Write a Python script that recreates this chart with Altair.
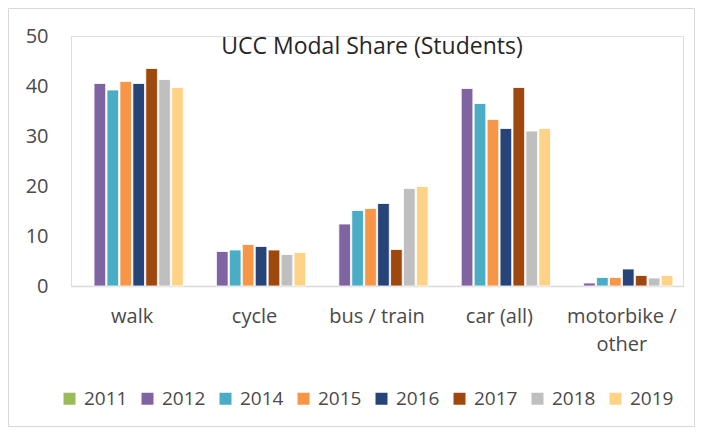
import altair as alt
import pandas as pd

categories = ["walk", "cycle", "bus / train", "car (all)", "motorbike / other"]
years = ["2011", "2012", "2014", "2015", "2016", "2017", "2018", "2019"]
colors = ["#9BBB59", "#8064A2", "#4BACC6", "#F79646", "#264478", "#9E480E", "#BFBFBF", "#FFD385"]

v2011 = [None, None, None, None, None]
v2012 = [40.5, 6.9, 12.4, 39.5, 0.6]
v2014 = [39.2, 7.2, 15.1, 36.5, 1.7]
v2015 = [40.9, 8.3, 15.5, 33.3, 1.7]
v2016 = [40.5, 7.9, 16.5, 31.5, 3.4]
v2017 = [43.5, 7.2, 7.3, 39.7, 2.1]
v2018 = [41.3, 6.3, 19.5, 31.0, 1.6]
v2019 = [39.7, 6.7, 19.9, 31.5, 2.1]

series = [v2011, v2012, v2014, v2015, v2016, v2017, v2018, v2019]
rows = []
for yr, vals in zip(years, series):
    for cat, v in zip(categories, vals):
        if v is not None:
            rows.append({"mode": cat, "year": yr, "share": v})
df = pd.DataFrame(rows)

FONT = "Open Sans"
LABEL = "#4A4A4A"

W, H = 612, 250
PAD = {"left": 63, "top": 28, "right": 12, "bottom": 141}

bars = alt.Chart(df).mark_bar(stroke="white", strokeWidth=0.8).encode(
    x=alt.X("mode:N", sort=categories, title=None,
            scale=alt.Scale(domain=categories, paddingInner=0.165, paddingOuter=0.0825),
            axis=alt.Axis(labelAngle=0, labelFontSize=20, labelColor=LABEL, labelFont=FONT,
                          domainColor="#D9D9D9", domainWidth=1.5, ticks=False,
                          labelPadding=20, labelLineHeight=28,
                          labelExpr="datum.value == 'motorbike / other' ? ['motorbike /', 'other'] : datum.label")),
    xOffset=alt.XOffset("year:N", sort=years, scale=alt.Scale(domain=years, paddingInner=0.1, paddingOuter=0)),
    y=alt.Y("share:Q", title=None,
            scale=alt.Scale(domain=[0, 50], nice=False),
            axis=alt.Axis(values=[0, 10, 20, 30, 40, 50], domain=False, ticks=False, grid=False,
                          labelFontSize=20, labelColor=LABEL, labelFont=FONT, labelPadding=23)),
    color=alt.Color("year:N", sort=years, scale=alt.Scale(domain=years, range=colors),
                    legend=alt.Legend(title=None, orient="none", direction="horizontal",
                                      legendX=-11, legendY=353,
                                      symbolType="square", symbolSize=144, symbolStrokeWidth=0,
                                      labelFontSize=19, labelColor=LABEL, labelFont=FONT,
                                      labelOffset=5, columnPadding=10)),
)

one = pd.DataFrame({"k": [0]})

title = alt.Chart(one).mark_text(
    text="UCC Modal Share (Students)", font=FONT, fontSize=23, color="#262626",
    align="center", baseline="alphabetic"
).encode(x=alt.value(301), y=alt.value(18))

border = alt.Chart(one).mark_rect(fill=None, stroke="#D9D9D9", strokeWidth=1).encode(
    x=alt.value(-PAD["left"] + 0.5), x2=alt.value(W + PAD["right"] - 0.5),
    y=alt.value(-PAD["top"] + 0.5), y2=alt.value(H + PAD["bottom"] - 0.5),
)

chart = alt.layer(border, bars, title).properties(
    width=W, height=H, autosize=alt.AutoSizeParams(type="none"), padding=PAD
).configure_view(stroke=None).configure(background="white")

chart.save("out.html", embed_options={"renderer": "svg", "actions": False})
